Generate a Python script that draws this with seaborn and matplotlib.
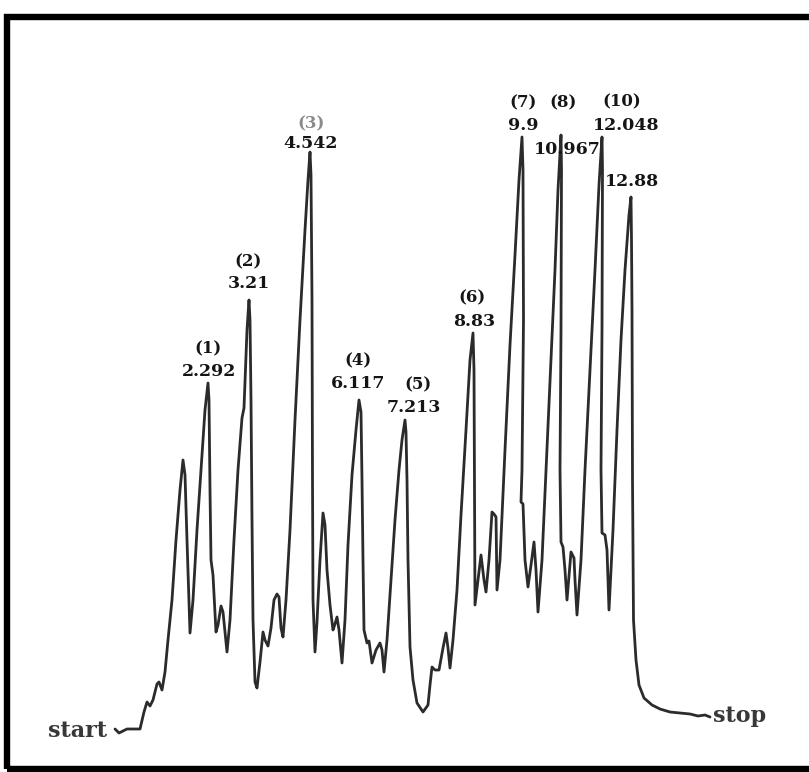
import matplotlib
matplotlib.use("Agg")
import matplotlib.pyplot as plt
from matplotlib.patches import Rectangle
import pandas as pd
import seaborn as sns

# Recorder trace as (chart position, detector response) pairs, grouped by peak
baseline_start = [(115, 1), (119, -3), (123, -1), (127, 1), (133, 1), (140, 1), (144, 18),
                  (147, 28), (150, 24), (153, 30), (157, 46), (159, 48), (162, 40), (165, 58),
                  (168, 90)]
peak_pre1 = [(172, 130), (176, 190), (180, 240), (183, 270), (185, 255), (187, 190), (190, 97)]
peak_1 = [(193, 130), (197, 200), (201, 260), (205, 320), (208, 347), (209, 330), (210, 240),
          (211, 170), (213, 155), (216, 98), (218, 105), (221, 124), (223, 118), (227, 78)]
peak_2 = [(230, 110), (234, 190), (238, 260), (242, 312), (244, 322), (247, 400), (249, 430),
          (250, 410), (251, 330), (252, 210), (253, 110), (255, 48), (257, 42), (260, 68),
          (263, 98), (265, 90), (268, 84), (271, 102), (274, 130), (277, 136), (279, 133),
          (281, 102), (283, 93)]
peak_3 = [(286, 130), (290, 200), (295, 310), (300, 410), (305, 500), (308, 550), (310, 578),
          (311, 555), (312, 430), (312.5, 250), (313, 130), (315, 78), (317, 108), (320, 170),
          (323, 217), (325, 205), (327, 160), (330, 125), (333, 100), (335, 106), (337, 113),
          (339, 100), (342, 67)]
peak_4 = [(345, 110), (348, 185), (352, 255), (356, 300), (359, 330), (361, 318), (362, 250),
          (363, 170), (364, 100), (367, 87), (369, 89), (372, 67), (376, 80), (380, 87),
          (382, 80), (384, 58)]
peak_5 = [(387, 90), (391, 150), (395, 210), (399, 260), (402, 290), (405, 310), (406, 298),
          (407, 250), (408, 170), (410, 83), (413, 50), (417, 27), (423, 18), (428, 25),
          (430, 45), (432, 63), (435, 60), (439, 60), (443, 82), (446, 97), (448, 82), (450, 62)]
peak_6 = [(453, 90), (457, 140), (461, 215), (466, 300), (470, 370), (473, 397), (474, 360),
          (474.5, 230), (475, 125), (478, 150), (481, 175), (484, 150), (486, 138), (489, 170),
          (492, 218), (494, 216), (496, 213), (497, 140)]
peak_7 = [(500, 170), (505, 280), (510, 385), (515, 475), (519, 550), (522, 593), (523, 560),
          (523.5, 410), (522, 260), (521, 228), (523, 226), (525, 170), (528, 143), (531, 165),
          (534, 188), (536, 160), (538, 118)]
peak_8 = [(542, 170), (546, 260), (550, 350), (555, 460), (558, 540), (561, 595), (561.5, 560),
          (561, 400), (560, 260), (561, 188), (563, 183), (565, 160), (567, 130), (571, 178),
          (574, 172), (575, 150), (577, 115)]
peak_10 = [(581, 170), (585, 260), (590, 360), (595, 460), (599, 545), (602, 593), (602.5, 560),
           (602, 400), (601, 260), (602, 197), (605, 195), (607, 180), (609, 120)]
peak_11 = [(613, 200), (617, 300), (621, 390), (625, 460), (629, 515), (631, 533), (631.5, 490),
           (632, 420), (632.5, 250), (633.5, 110), (636, 70), (639, 45), (644, 32), (652, 25),
           (660, 21), (670, 18), (680, 17), (690, 16), (698, 14), (705, 15), (710, 13)]

# Peak annotations: peak number and retention time (min)
peak_ids = ["(1)", "(2)", "(3)", "(4)", "(5)", "(6)", "(7)", "(8)", "(10)", ""]
retention_times = ["2.292", "3.21", "4.542", "6.117", "7.213", "8.83", "9.9", "10.967", "12.048", "12.88"]

# Label placement (chart position, response level)
id_pos = [(208, 381), (248, 468), (311, 606), (358, 369), (418, 345),
          (472, 432), (523, 627), (563, 627), (622, 628), None]
rt_pos = [(209, 358), (249, 446), (310, 586), (358, 346), (414, 322),
          (474, 408), (523, 605), (567, 581), (626, 604), (632, 548)]

segments = [baseline_start, peak_pre1, peak_1, peak_2, peak_3, peak_4, peak_5,
            peak_6, peak_7, peak_8, peak_10, peak_11]
points = [p for seg in segments for p in seg]
trace = pd.DataFrame(points, columns=["pos", "resp"])

W, H = 809, 772
fig = plt.figure(figsize=(W / 100, H / 100), dpi=100)
sns.set_style("white")
ax = fig.add_axes([0, 0, 1, 1])

sns.lineplot(data=trace, x="pos", y="resp", sort=False, estimator=None,
             color="#2b2b2b", linewidth=2.0, ax=ax)

ax.set_xlim(0, W)
ax.set_ylim(-42, 730)
ax.set_axis_off()

txt = dict(family=["DejaVu Serif"], fontweight="bold", color="#151515",
           ha="center", va="center")
for i, (pid, rt) in enumerate(zip(peak_ids, retention_times)):
    if pid and id_pos[i] is not None:
        col = "#8a8a8a" if pid == "(3)" else "#151515"
        ax.text(*id_pos[i], pid, fontsize=12, **{**txt, "color": col})
    ax.text(*rt_pos[i], rt, fontsize=12.5, **txt)

ax.text(48, -1, "start", fontsize=16, **{**txt, "ha": "left", "color": "#383838"})
ax.text(713, 14, "stop", fontsize=16, **{**txt, "ha": "left", "color": "#383838"})

# Heavy black border around the chart
fig.patches.append(Rectangle((7.5 / W, 3 / H), 1.2, (755.5 - 3) / H,
                             transform=fig.transFigure, fill=False,
                             edgecolor="black", linewidth=4.6, clip_on=False))

fig.savefig("out.png", dpi=100, facecolor="white")
